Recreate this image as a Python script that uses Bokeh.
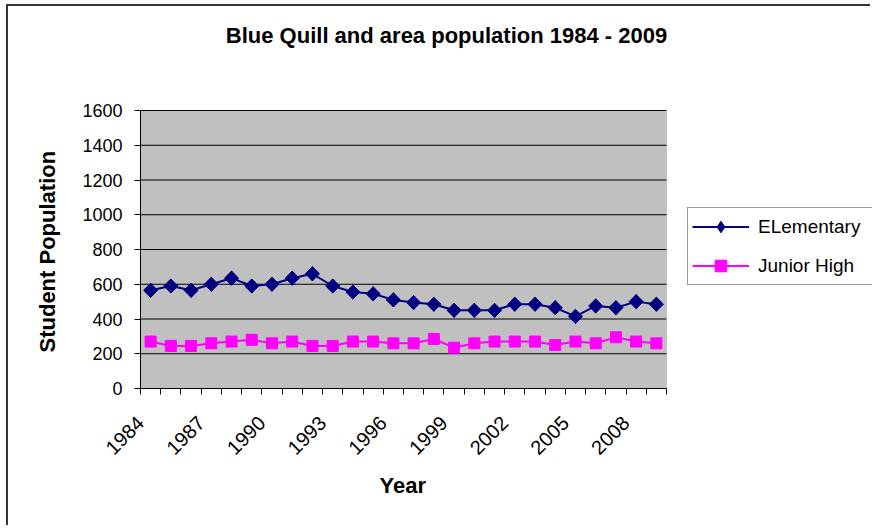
import math
from bokeh.plotting import figure
from bokeh.models import FixedTicker, Legend, LegendItem, BoxAnnotation, Label, Title
from bokeh.embed import file_html
from bokeh.resources import INLINE

years = list(range(1984, 2010))
elementary = [565, 590, 565, 600, 635, 590, 600, 635, 660, 590, 555, 545, 510,
              495, 485, 450, 450, 450, 485, 485, 465, 415, 475, 465, 500, 485]
junior_high = [270, 245, 245, 260, 270, 280, 260, 270, 245, 245, 270, 270, 260,
               260, 285, 235, 260, 270, 270, 270, 250, 270, 260, 295, 270, 260]
y_ticks = [0, 200, 400, 600, 800, 1000, 1200, 1400, 1600]
labelled_years = [1984, 1987, 1990, 1993, 1996, 1999, 2002, 2005, 2008]
title_text = "Blue Quill and area population 1984 - 2009"
x_label = "Year"
y_label = "Student Population"
series_names = ["ELementary", "Junior High"]

FONT = "Liberation Sans"

# layout (pixels on the page)
W, H = 864, 521
OX, OY = 8, 6                       # canvas origin on the page
BOX_L, BOX_R, BOX_T, BOX_B = 140, 666, 110, 388

x0, x1 = years[0], years[-1] + 1    # slot boundaries
y0, y1 = y_ticks[0], y_ticks[-1]
px_per_x = (BOX_R - BOX_L) / (x1 - x0)
px_per_y = (BOX_B - BOX_T) / (y1 - y0)
x_end = x0 + ((OX + W) - BOX_L) / px_per_x
y_end = y0 + (BOX_B - OY) / px_per_y

# points sit in the middle of each year's slot; ticks mark slot boundaries
xs = [y + 0.5 for y in years]

p = figure(width=W, height=H, output_backend="svg", toolbar_location=None,
           title=None, x_range=(x0, x_end), y_range=(y0, y_end))
p.styles = {"margin-left": "6px", "margin-top": "4px",
            "border-left": "2px solid #333333", "border-top": "2px solid #333333"}
p.min_border_left = BOX_L - OX
p.min_border_right = 0
p.min_border_top = 0
p.min_border_bottom = (OY + H) - BOX_B

p.background_fill_color = "white"
p.border_fill_color = "white"
p.outline_line_color = None
p.xgrid.grid_line_color = None
p.ygrid.grid_line_color = None

# grey plotting area
p.add_layout(BoxAnnotation(left=x0, right=x1, bottom=y0, top=y1,
                           fill_color="#C0C0C0", fill_alpha=1,
                           line_color="#808080", line_width=1, level="underlay"))
# horizontal gridlines at the y ticks
p.segment(x0=[x0] * len(y_ticks), x1=[x1] * len(y_ticks), y0=y_ticks, y1=y_ticks,
          line_color="black", line_width=1)

# y axis
p.yaxis.bounds = (y0, y1)
p.yaxis.ticker = FixedTicker(ticks=y_ticks)
p.yaxis.major_label_text_font = FONT
p.yaxis.major_label_text_font_size = "18px"
p.yaxis.major_label_text_color = "black"
p.yaxis.major_tick_out = 6
p.yaxis.major_tick_in = 0
p.yaxis.minor_tick_line_color = None
p.yaxis.axis_line_color = "black"
p.yaxis.major_tick_line_color = "black"
p.yaxis.major_label_standoff = 12

# x axis
x_ticks = list(range(x0, x1 + 1))
p.xaxis.bounds = (x0, x1)
p.xaxis.ticker = FixedTicker(ticks=x_ticks)
p.xaxis.major_label_overrides = {t: (str(t) if t in labelled_years else "") for t in x_ticks}
p.xaxis.major_label_orientation = math.pi / 4
p.xaxis.major_label_text_font = FONT
p.xaxis.major_label_text_font_size = "20px"
p.xaxis.major_label_text_color = "black"
p.xaxis.major_tick_out = 6
p.xaxis.major_tick_in = 0
p.xaxis.minor_tick_line_color = None
p.xaxis.axis_line_color = "black"
p.xaxis.major_tick_line_color = "black"
p.xaxis.major_label_standoff = 25

# axis titles, placed along the grey box
ylab = Title(text=y_label, align="left", offset=36, standoff=40, text_font=FONT,
             text_font_size="22px", text_font_style="bold", text_color="black")
p.add_layout(ylab, "left")
xlab = Title(text=x_label, align="left", offset=239, standoff=14, text_font=FONT,
             text_font_size="22px", text_font_style="bold", text_color="black")
p.add_layout(xlab, "below")

NAVY = "#000080"
PINK = "#FF00FF"

l1 = p.line(xs, elementary, line_color=NAVY, line_width=2)
# diamond version of the markers (used as the legend swatch; hidden under the
# rotated squares drawn next)
key1 = p.scatter(xs, elementary, marker="diamond", size=14,
                 fill_color=NAVY, line_color=NAVY)
m1 = p.scatter(xs, elementary, marker="square", angle=math.pi / 4, size=10,
               fill_color=NAVY, line_color=NAVY)
l2 = p.line(xs, junior_high, line_color=PINK, line_width=2)
m2 = p.scatter(xs, junior_high, marker="square", size=11,
               fill_color=PINK, line_color=PINK)

# title
p.add_layout(Label(x=446 - BOX_L, y=BOX_B - 35, x_units="screen", y_units="screen",
                   text=title_text, text_font=FONT, text_font_size="22px",
                   text_font_style="bold", text_align="center",
                   text_baseline="middle", text_color="black"))

legend = Legend(items=[LegendItem(label=series_names[0], renderers=[l1, key1]),
                       LegendItem(label=series_names[1], renderers=[l2, m2])],
                location=(687 - BOX_L, BOX_B - 285))
legend.label_text_font = FONT
legend.label_text_font_size = "19px"
legend.label_text_color = "black"
legend.glyph_width = 57
legend.glyph_height = 29
legend.label_standoff = 9
legend.label_width = 140
legend.padding = 4
legend.spacing = 10
legend.margin = 0
legend.border_line_color = "#333333"
legend.border_line_width = 1
legend.background_fill_color = "white"
legend.background_fill_alpha = 1
p.add_layout(legend, "center")

open("out.html", "w").write(file_html(p, INLINE))
